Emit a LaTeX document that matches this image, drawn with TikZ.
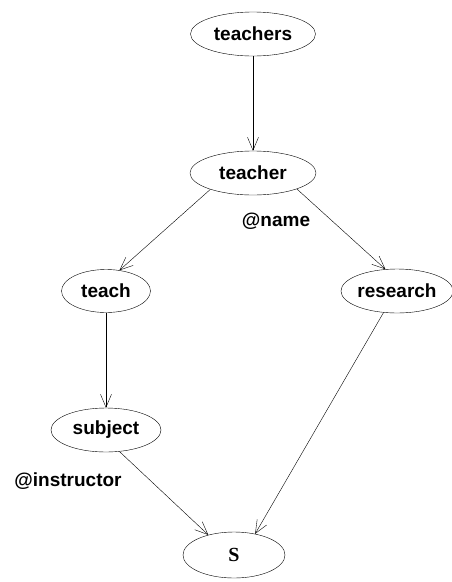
\documentclass[tikz,border=0pt]{standalone}
\usepackage{fontspec}
\setmainfont{Liberation Sans}
\newfontfamily\serifbf{Liberation Serif}
\usetikzlibrary{shapes.geometric,arrows.meta}
\tikzset{
    elem/.style={ellipse,draw=black,thin,inner sep=0,minimum height=44pt,font=\fontsize{19}{22}\selectfont\bfseries},
    attr/.style={font=\fontsize{19}{22}\selectfont\bfseries,inner sep=0},
    edge/.style={-{Straight Barb[length=13pt,width=11pt]},thin}
}
\begin{document}
\begin{tikzpicture}[x=1pt,y=-1pt]
    \useasboundingbox (0,0) rectangle (451,582);
    \node[elem,minimum width=125pt] (teachers) at (253,34) {teachers};
    \node[elem,minimum width=126pt] (teacher) at (253,173) {teacher};
    \node[elem,minimum width=89pt,minimum height=43pt] (teach) at (106,291) {teach};
    \node[elem,minimum width=105pt] (research) at (397,291) {research};
    \node[elem,minimum width=110pt] (subject) at (106,430) {subject};
    \node[elem,minimum width=102pt,minimum height=46pt,font=\fontsize{20}{22}\serifbf\bfseries] (S) at (234,555) {S};
    \node[attr] (name) at (276,221) {@name};
    \node[attr] (instructor) at (68,481) {@instructor};
    % edges
    \draw[edge] (teachers) -- (teacher);
    \draw[edge] (teacher.201) -- (teach.57);
    \draw[edge] (teacher.340) -- (research.118);
    \draw[edge] (teach) -- (subject);
    \draw[edge] (subject.302) -- (S.142);
    \draw[edge] (research.238) -- (S.45);
\end{tikzpicture}
\end{document}
